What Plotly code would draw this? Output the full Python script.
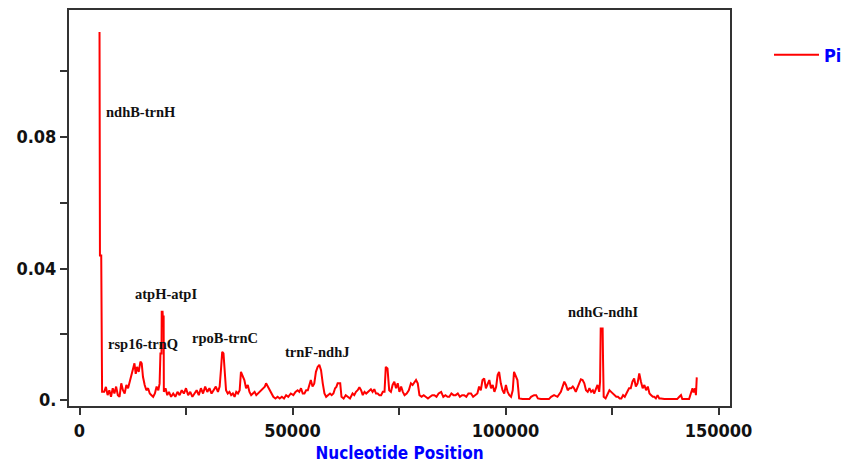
import plotly.graph_objects as go

# Nucleotide diversity (Pi) along the sequence (sliding window)
position = [
    4700, 4800, 5100, 5300, 5800, 6200, 6600, 7000, 7400, 7800, 8200, 8600, 9000, 9400,
    9800, 10200, 10600, 11000, 11400, 11800, 12200, 12500, 12900, 13200, 13500, 13900,
    14300, 14600, 14900, 15300, 15700, 16100, 16500, 16900, 17300, 17700, 18100, 18500,
    18800, 19000, 19250, 19300, 19500, 19550, 19750, 19800, 20200, 20600, 21000, 21500,
    22000, 22500, 23000, 23500, 24000, 24500, 25000, 25500, 26000, 26500, 27000, 27500,
    28000, 28500, 29000, 29500, 30000, 30500, 31000, 31500, 32000, 32500, 32900, 33200,
    33500, 33800, 34000, 34400, 34800, 35200, 35600, 36000, 36400, 36800, 37200, 37600,
    37900, 38300, 38700, 39100, 39500, 39900, 40300, 40700, 41100, 41500, 41900, 42300,
    42700, 43100, 43500, 43800, 44200, 44600, 45000, 45500, 46000, 46500, 47000, 47500,
    48000, 48500, 49000, 49600, 50200, 50700, 51200, 51600, 52000, 52400, 52800, 53200,
    53600, 54000, 54300, 54700, 55100, 55500, 55900, 56300, 56700, 57100, 57500, 57900,
    58400, 58800, 59200, 59600, 60000, 60300, 60600, 61200, 61500, 62000, 62500, 63000,
    63500, 64100, 64500, 64900, 65300, 65700, 66100, 66500, 66900, 67300, 67800, 68400,
    68800, 69200, 69600, 70000, 70400, 70800, 71200, 71600, 71900, 72300, 72700, 73100,
    73500, 73900, 74300, 74700, 75100, 75500, 75900, 76300, 76800, 77300, 77800, 78200,
    79000, 79400, 79800, 80300, 80800, 81300, 81800, 82300, 82800, 83300, 83800, 84300,
    84900, 85400, 85900, 86400, 86800, 87300, 87800, 88300, 88800, 89300, 89800, 90300,
    90800, 91300, 91900, 92400, 92900, 93400, 93800, 94200, 94600, 95000, 95400, 95800,
    96200, 96600, 97000, 97400, 97800, 98150, 98500, 98900, 99300, 99700, 100100, 100500,
    100900, 101300, 101700, 102000, 102400, 102800, 103200, 104000, 105600, 106000, 106700,
    107200, 107600, 108300, 110200, 110700, 111400, 112200, 113000, 113400, 113800, 114200,
    114600, 115000, 115400, 115800, 116100, 116500, 116900, 117300, 117700, 118100, 118500,
    118900, 119300, 119700, 120100, 120500, 120800, 121200, 121600, 122000, 122200, 122350,
    122800, 122900, 123050, 123500, 124000, 124400, 124800, 125200, 125600, 126000, 126400,
    126800, 127200, 127600, 128000, 128600, 129000, 129400, 129800, 130200, 130600, 131000,
    131400, 131800, 132200, 132600, 133000, 133400, 133800, 134200, 134600, 134900, 135300,
    135700, 136100, 136500, 137300, 138800, 140300, 140800, 141200, 141500, 143100, 143500,
    143900, 144100, 144300, 144500, 144700, 144900,
]
pi = [
    0.112, 0.044, 0.044, 0.0025, 0.0025, 0.004, 0.0015, 0.003, 0.001, 0.0036, 0.002, 0.0041, 0.0015, 0.001,
    0.0051, 0.003, 0.002, 0.0046, 0.0036, 0.0056, 0.0081, 0.0091, 0.0112, 0.008, 0.0101, 0.0086,
    0.0117, 0.0112, 0.0071, 0.0046, 0.003, 0.0036, 0.002, 0.0015, 0.001, 0.002, 0.0041, 0.003,
    0.005, 0.0142, 0.0142, 0.0269, 0.0269, 0.0254, 0.0254, 0.0025, 0.0036, 0.0015, 0.0025, 0.001,
    0.002, 0.001, 0.0025, 0.0015, 0.003, 0.002, 0.0036, 0.0015, 0.0025, 0.001, 0.002, 0.003,
    0.0015, 0.0036, 0.002, 0.0041, 0.0025, 0.0036, 0.002, 0.003, 0.0041, 0.0025, 0.0041, 0.0091,
    0.0147, 0.0142, 0.0101, 0.003, 0.002, 0.0025, 0.0015, 0.002, 0.001, 0.0025, 0.002, 0.003,
    0.0086, 0.0071, 0.0061, 0.0036, 0.0046, 0.0025, 0.0015, 0.002, 0.0025, 0.0015, 0.002, 0.0025,
    0.003, 0.0036, 0.0041, 0.0051, 0.0041, 0.003, 0.002, 0.001, 0.0005, 0.001, 0.0005, 0.001,
    0.0005, 0.0015, 0.001, 0.002, 0.0015, 0.0025, 0.003, 0.0025, 0.0036, 0.002, 0.002, 0.003,
    0.003, 0.0046, 0.0061, 0.0041, 0.005, 0.0086, 0.0101, 0.0107, 0.0091, 0.0051, 0.002, 0.001,
    0.0015, 0.002, 0.0015, 0.002, 0.0036, 0.004, 0.0051, 0.0051, 0.001, 0.0005, 0.0015, 0.001,
    0.0005, 0.002, 0.0015, 0.0025, 0.003, 0.0039, 0.003, 0.0015, 0.0025, 0.002, 0.0025, 0.0033,
    0.0025, 0.0033, 0.002, 0.002, 0.0015, 0.0015, 0.0025, 0.0025, 0.0101, 0.0096, 0.003, 0.0025,
    0.0046, 0.0056, 0.0036, 0.0051, 0.0025, 0.0041, 0.0025, 0.0015, 0.002, 0.003, 0.0051, 0.0046,
    0.0061, 0.0051, 0.0015, 0.001, 0.0015, 0.001, 0.0005, 0.001, 0.0015, 0.0015, 0.001, 0.002,
    0.0025, 0.001, 0.0015, 0.001, 0.001, 0.002, 0.0015, 0.0015, 0.002, 0.001, 0.0015, 0.0015,
    0.001, 0.002, 0.002, 0.001, 0.0015, 0.002, 0.0041, 0.003, 0.0061, 0.0066, 0.0036, 0.0051,
    0.0061, 0.0036, 0.0046, 0.0025, 0.004, 0.0076, 0.0086, 0.0051, 0.003, 0.002, 0.0046, 0.0025,
    0.0015, 0.001, 0.003, 0.0086, 0.0071, 0.0061, 0.0005, 0.0003, 0.0003, 0.001, 0.0015,
    0.0015, 0.0005, 0.0003, 0.0003, 0.001, 0.0015, 0.001, 0.0025, 0.0041, 0.0056, 0.0046,
    0.003, 0.0036, 0.0036, 0.0041, 0.0036, 0.0025, 0.0041, 0.0051, 0.0063, 0.0061, 0.0051,
    0.003, 0.0025, 0.0036, 0.0025, 0.003, 0.002, 0.0036, 0.0046, 0.0025, 0.0056, 0.0218,
    0.0218, 0.0122, 0.001, 0.0005, 0.002, 0.003, 0.0025, 0.002, 0.0015, 0.001, 0.001,
    0.0005, 0.0005, 0.0015, 0.001, 0.0025, 0.0036, 0.0036, 0.0056, 0.0066, 0.0041, 0.0051,
    0.0081, 0.0056, 0.0036, 0.0046, 0.003, 0.0041, 0.002, 0.0015, 0.001, 0.001, 0.0005,
    0.0015, 0.0005, 0.0005, 0.0003, 0.0003, 0.0003, 0.001, 0.0015, 0.0003, 0.0003, 0.002,
    0.0036, 0.0025, 0.0025, 0.0036, 0.0015, 0.0069,
]

# Region labels and where they sit (data coordinates)
label_text = ["ndhB-trnH", "atpH-atpI", "rsp16-trnQ", "rpoB-trnC", "trnF-ndhJ", "ndhG-ndhI"]
label_x = [14480, 20420, 14900, 34040, 55750, 123000]
label_y = [0.0877, 0.0323, 0.01705, 0.01887, 0.01461, 0.0268]

x_tickvals = [0, 50000, 100000, 150000]
x_ticktext = ["0", "50000", "100000", "150000"]
y_tickvals = [0, 0.04, 0.08]
y_ticktext = ["0.", "0.04", "0.08"]

TICK_FONT = dict(family="DejaVu Sans Condensed, DejaVu Sans", size=18, color="#111111", weight="bold")

fig = go.Figure()
fig.add_trace(go.Scatter(
    x=position, y=pi, mode="lines", name="Pi",
    line=dict(color="#ff0000", width=2),
))

for t, lx, ly in zip(label_text, label_x, label_y):
    fig.add_annotation(
        x=lx, y=ly, text=t, showarrow=False,
        font=dict(family="Liberation Serif, Times New Roman, serif", size=14.5,
                  color="#111111", weight="bold"),
        xanchor="center", yanchor="middle",
    )

fig.update_layout(
    template="none",
    width=845, height=466,
    margin=dict(l=69, r=115, t=10, b=60, autoexpand=False),
    paper_bgcolor="white", plot_bgcolor="white",
    showlegend=True,
    legend=dict(
        x=(769 - 69) / 661, y=(406 - 55) / 396, xanchor="left", yanchor="middle",
        font=dict(family="DejaVu Sans Condensed, DejaVu Sans", size=18, color="#0000ff",
                  weight="bold"),
        itemwidth=45, bgcolor="rgba(0,0,0,0)", borderwidth=0,
    ),
)

fig.update_xaxes(
    range=[-2465, 152700], automargin=False,
    tickvals=x_tickvals, ticktext=x_ticktext,
    ticks="outside", ticklen=7, tickwidth=1.5, tickcolor="#333333",
    minor=dict(dtick=25000, tick0=0, ticks="outside", ticklen=7, tickwidth=1.5,
               tickcolor="#333333", showgrid=False),
    showline=True, linecolor="#333333", linewidth=2, mirror=True,
    showgrid=False, zeroline=False,
    tickfont=TICK_FONT,
    title=dict(text="Nucleotide Position",
               font=dict(family="DejaVu Sans Condensed, DejaVu Sans", size=17,
                         color="#0000ff", weight="bold"),
               standoff=8),
)
fig.update_yaxes(
    range=[-0.0018, 0.1187], automargin=False,
    tickvals=y_tickvals, ticktext=y_ticktext,
    ticks="outside", ticklen=7, tickwidth=1.5, tickcolor="#333333",
    minor=dict(dtick=0.02, tick0=0, ticks="outside", ticklen=7, tickwidth=1.5,
               tickcolor="#333333", showgrid=False),
    showline=True, linecolor="#333333", linewidth=2, mirror=True,
    showgrid=False, zeroline=False,
    tickfont=TICK_FONT,
)

fig.write_html(
    "out.html",
    config={"displayModeBar": False},
    post_script="document.body.style.margin='0';document.body.style.overflow='hidden';",
)
